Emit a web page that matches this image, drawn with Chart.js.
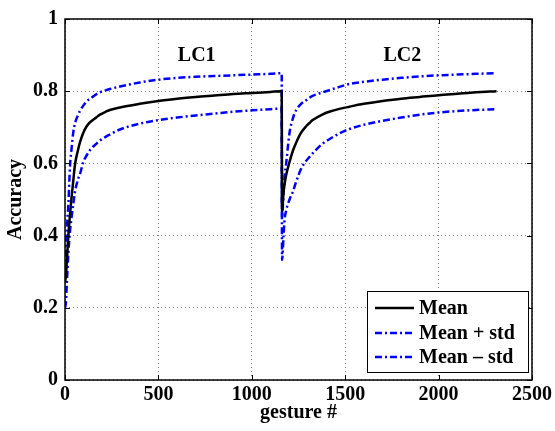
<!DOCTYPE html>
<html>
<head>
<meta charset="utf-8">
<script src="https://cdn.jsdelivr.net/npm/chart.js@4.4.0/dist/chart.umd.min.js"></script>
<style>
html, body { margin: 0; padding: 0; background: #fff; }
#wrap { width: 555px; height: 431px; }
</style>
</head>
<body>
<div id="wrap"><canvas id="accChart"></canvas></div>
<script>
// tick values
const xTicks = [0, 500, 1000, 1500, 2000, 2500];
const yTicks = [0, 0.2, 0.4, 0.6, 0.8, 1];

// first learning curve (LC1)
const lc1Gesture = [0, 5, 10, 18, 27, 35, 44, 53, 71, 80, 98, 116, 134, 169, 187, 222, 240, 294, 400, 500, 600, 700, 800, 900, 1000, 1100, 1160];
const lc1Mean  = [0.27, 0.29, 0.33, 0.40, 0.46, 0.505, 0.55, 0.595, 0.64, 0.658, 0.685, 0.703, 0.714, 0.728, 0.735, 0.744, 0.748, 0.755, 0.765, 0.773, 0.779, 0.784, 0.788, 0.792, 0.795, 0.798, 0.80];
const lc1Upper = [0.30, 0.36, 0.42, 0.486, 0.595, 0.64, 0.685, 0.71, 0.735, 0.745, 0.76, 0.772, 0.779, 0.792, 0.797, 0.803, 0.806, 0.813, 0.824, 0.832, 0.837, 0.84, 0.842, 0.844, 0.846, 0.848, 0.85];
const lc1Lower = [0.20, 0.216, 0.27, 0.35, 0.414, 0.45, 0.486, 0.52, 0.558, 0.57, 0.604, 0.622, 0.637, 0.655, 0.663, 0.675, 0.68, 0.694, 0.71, 0.72, 0.727, 0.733, 0.738, 0.743, 0.747, 0.75, 0.752];

// second learning curve (LC2)
const lc2Gesture = [1162, 1170, 1175, 1184, 1202, 1220, 1238, 1264, 1291, 1309, 1326, 1380, 1415, 1469, 1522, 1600, 1700, 1800, 1900, 2000, 2100, 2200, 2310];
const lc2Mean  = [0.468, 0.52, 0.54, 0.568, 0.604, 0.635, 0.658, 0.685, 0.703, 0.712, 0.72, 0.736, 0.743, 0.751, 0.757, 0.765, 0.773, 0.779, 0.784, 0.789, 0.793, 0.797, 0.80];
const lc2Upper = [0.45, 0.52, 0.56, 0.60, 0.685, 0.725, 0.748, 0.765, 0.775, 0.782, 0.787, 0.797, 0.803, 0.812, 0.82, 0.826, 0.832, 0.837, 0.841, 0.844, 0.846, 0.848, 0.85];
const lc2Lower = [0.333, 0.40, 0.441, 0.47, 0.50, 0.522, 0.55, 0.585, 0.607, 0.618, 0.628, 0.655, 0.667, 0.683, 0.695, 0.707, 0.718, 0.727, 0.735, 0.741, 0.745, 0.748, 0.75];

// segment labels
const segLabels = ['LC1', 'LC2'];
const segLabelX = [705, 1806];
const segLabelY = [0.897, 0.897];

const FONT = 'Liberation Serif, Times New Roman, serif';

function toPoints(gs, vs) {
    return gs.map((g, i) => ({ x: g, y: vs[i] }));
}

const meanData  = toPoints(lc1Gesture, lc1Mean).concat(toPoints(lc2Gesture, lc2Mean));
const upperData = toPoints(lc1Gesture, lc1Upper).concat(toPoints(lc2Gesture, lc2Upper));
const lowerData = toPoints(lc1Gesture, lc1Lower).concat(toPoints(lc2Gesture, lc2Lower));

const dashDot = [7, 3, 2, 3];

// frame, inward tick marks, segment labels and the boxed legend
const extrasPlugin = {
    id: 'extras',
    afterDraw(chart) {
        const ctx = chart.ctx;
        const area = chart.chartArea;
        const xs = chart.scales.x;
        const ys = chart.scales.y;
        ctx.save();

        ctx.strokeStyle = '#000';
        ctx.lineWidth = 1;
        xTicks.forEach(v => {
            const px = Math.round(xs.getPixelForValue(v)) + 0.5;
            ctx.beginPath();
            ctx.moveTo(px, area.bottom); ctx.lineTo(px, area.bottom - 5);
            ctx.moveTo(px, area.top); ctx.lineTo(px, area.top + 5);
            ctx.stroke();
        });
        yTicks.forEach(v => {
            const py = Math.round(ys.getPixelForValue(v)) + 0.5;
            ctx.beginPath();
            ctx.moveTo(area.left, py); ctx.lineTo(area.left + 5, py);
            ctx.moveTo(area.right, py); ctx.lineTo(area.right - 5, py);
            ctx.stroke();
        });

        ctx.lineWidth = 1.5;
        ctx.strokeRect(area.left, area.top, area.right - area.left, area.bottom - area.top);

        ctx.fillStyle = '#000';
        ctx.font = 'bold 20px ' + FONT;
        ctx.textAlign = 'center';
        ctx.textBaseline = 'middle';
        segLabels.forEach((t, i) => {
            ctx.fillText(t, xs.getPixelForValue(segLabelX[i]), ys.getPixelForValue(segLabelY[i]));
        });

        // legend box
        const bx = 367, by = 291, bw = 161, bh = 81;
        ctx.fillStyle = '#fff';
        ctx.fillRect(bx, by, bw, bh);
        ctx.strokeStyle = '#000';
        ctx.lineWidth = 1;
        ctx.strokeRect(bx + 0.5, by + 0.5, bw, bh);
        const rows = [308, 333, 357];
        chart.data.datasets.forEach((ds, i) => {
            ctx.beginPath();
            ctx.strokeStyle = ds.borderColor;
            ctx.lineWidth = ds.borderWidth;
            ctx.setLineDash(ds.borderDash || []);
            ctx.moveTo(375, rows[i]);
            ctx.lineTo(414, rows[i]);
            ctx.stroke();
            ctx.setLineDash([]);
            ctx.fillStyle = '#000';
            ctx.textAlign = 'left';
            ctx.fillText(ds.label, 419, rows[i] + 1);
        });
        ctx.restore();
    }
};

new Chart(document.getElementById('accChart'), {
    type: 'line',
    data: {
        datasets: [
            {
                label: 'Mean',
                data: meanData,
                borderColor: '#000000',
                borderWidth: 2.5,
                pointRadius: 0,
                cubicInterpolationMode: 'monotone',
                fill: false
            },
            {
                label: 'Mean + std',
                data: upperData,
                borderColor: '#0000ff',
                borderWidth: 2.5,
                borderDash: dashDot,
                pointRadius: 0,
                cubicInterpolationMode: 'monotone',
                fill: false
            },
            {
                label: 'Mean \u2013 std',
                data: lowerData,
                borderColor: '#0000ff',
                borderWidth: 2.5,
                borderDash: dashDot,
                pointRadius: 0,
                cubicInterpolationMode: 'monotone',
                fill: false
            }
        ]
    },
    options: {
        responsive: true,
        maintainAspectRatio: false,
        animation: false,
        layout: { padding: { left: 0, right: 22, top: 10, bottom: 0 } },
        plugins: {
            legend: { display: false },
            tooltip: { enabled: false }
        },
        scales: {
            x: {
                type: 'linear',
                min: 0,
                max: 2500,
                afterFit: s => { s.height = 51; },
                afterBuildTicks: s => { s.ticks = xTicks.map(v => ({ value: v })); },
                grid: {
                    color: '#777',
                    lineWidth: 1,
                    drawTicks: false
                },
                border: { display: false, dash: [1, 3] },
                ticks: {
                    color: '#000',
                    padding: 3,
                    maxRotation: 0,
                    font: { family: FONT, size: 20, weight: 'bold' },
                    callback: v => String(v)
                },
                title: {
                    display: true,
                    text: 'gesture #',
                    color: '#000',
                    padding: { top: 0, bottom: 6 },
                    font: { family: FONT, size: 20, weight: 'bold' }
                }
            },
            y: {
                min: 0,
                max: 1,
                afterFit: s => { s.width = 65; },
                afterBuildTicks: s => { s.ticks = yTicks.map(v => ({ value: v })); },
                grid: {
                    color: '#777',
                    lineWidth: 1,
                    drawTicks: false
                },
                border: { display: false, dash: [1, 3] },
                ticks: {
                    color: '#000',
                    padding: 7,
                    font: { family: FONT, size: 20, weight: 'bold' },
                    callback: v => String(v)
                },
                title: {
                    display: true,
                    text: 'Accuracy',
                    color: '#000',
                    padding: { top: 4, bottom: 0 },
                    font: { family: FONT, size: 20, weight: 'bold' }
                }
            }
        }
    },
    plugins: [extrasPlugin]
});
</script>
</body>
</html>
